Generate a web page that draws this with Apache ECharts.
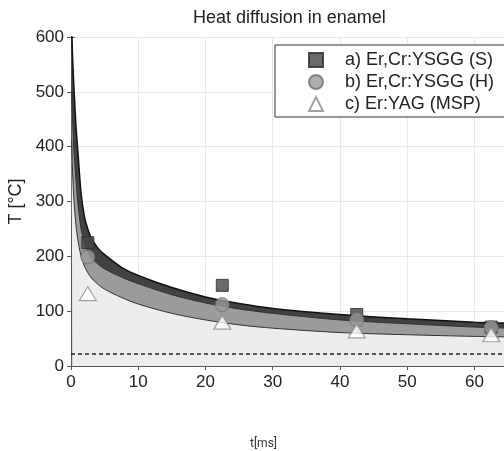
<!DOCTYPE html>
<html>
<head>
<meta charset="utf-8">
<script src="https://cdn.jsdelivr.net/npm/echarts@6/dist/echarts.min.js"></script>
<style>html,body{margin:0;padding:0;background:#fff;}#c{width:504px;height:451px;}</style>
</head>
<body>
<div id="c"></div>
<script>
// ---- data ----
const tCurve = [0.1, 0.2, 0.35, 0.5, 0.75, 1, 1.5, 2, 2.5, 3, 4, 5, 7.5, 10, 15, 20, 25, 30, 40, 50, 60, 65];
const upperCurve = [630, 575, 530, 492, 435, 395, 315, 272, 250, 234, 215, 203, 180, 165, 143, 126, 114, 105, 94, 86, 80, 78];
const middleCurve = [500, 460, 413, 380, 338, 300, 250, 226, 209, 198, 186, 177, 162, 150, 130, 115, 104, 96, 84, 77, 71, 69];
const lowerCurve = [413, 365, 321, 292, 255, 232, 200, 182, 170, 161, 149, 140, 125, 113, 96, 84, 75, 69, 61, 57, 54, 53];
const tMeas = [2.5, 22.5, 42.5, 62.5];
const seriesA = [225, 147, 94, 71];
const seriesB = [199, 112, 84, 70];
const seriesC = [132, 80, 64, 57];
const ambientT = 23;
const names = ['a) Er,Cr:YSGG (S)', 'b) Er,Cr:YSGG (H)', 'c) Er:YAG (MSP)'];
const xTicks = [0, 10, 20, 30, 40, 50, 60];

const FONT = '"Liberation Sans", Arial, sans-serif';
const pair = (xs, ys) => xs.map((x, i) => [x, ys[i]]);

const chart = echarts.init(document.getElementById('c'), null, {renderer: 'canvas'});
const axisLineStyle = {color: '#555', width: 1};
chart.setOption({
  animation: false,
  backgroundColor: '#fff',
  title: {
    text: 'Heat diffusion in enamel',
    left: 193, top: 9, padding: 0,
    textStyle: {fontFamily: FONT, fontSize: 18, fontWeight: 'normal', color: '#222'}
  },
  legend: {
    orient: 'vertical',
    left: 275, top: 45,
    padding: [6, 11, 4, 33],
    itemWidth: 14, itemHeight: 14, itemGap: 4,
    borderColor: '#333', borderWidth: 1, backgroundColor: '#fff',
    data: names,
    textStyle: {fontFamily: FONT, fontSize: 18, color: '#222', padding: [0, 0, 0, 17]}
  },
  grid: {left: 71, top: 37, right: -4, bottom: 85, outerBoundsMode: 'none', containLabel: false},
  xAxis: [{
    type: 'value', min: 0, max: 65, interval: 10,
    name: 't[ms]', nameLocation: 'middle', nameGap: 72,
    nameTextStyle: {fontFamily: 'Roboto, sans-serif', fontSize: 12, color: '#333', padding: [0, 52, 0, 0]},
    axisLine: {show: true, lineStyle: axisLineStyle},
    axisTick: {show: true, inside: true, length: 4, lineStyle: axisLineStyle},
    axisLabel: {fontFamily: FONT, fontSize: 17, color: '#222', margin: 8, showMaxLabel: false,
      formatter: v => xTicks.includes(v) ? String(v) : ''},
    splitLine: {show: true, lineStyle: {color: '#e8e8e8', width: 1}}
  }, {
    type: 'value', min: 0, max: 65, interval: 10, position: 'top',
    axisLine: {show: true, lineStyle: axisLineStyle},
    axisTick: {show: true, inside: true, length: 4, lineStyle: axisLineStyle},
    axisLabel: {show: false}, splitLine: {show: false}
  }],
  yAxis: [{
    type: 'value', min: 0, max: 600, interval: 100,
    name: 'T [°C]', nameLocation: 'middle', nameGap: 46,
    nameTextStyle: {fontFamily: FONT, fontSize: 18, color: '#222'},
    axisLine: {show: true, lineStyle: axisLineStyle},
    axisTick: {show: true, inside: true, length: 4, lineStyle: axisLineStyle},
    axisLabel: {fontFamily: FONT, fontSize: 17, color: '#222', margin: 7},
    splitLine: {show: true, lineStyle: {color: '#e8e8e8', width: 1}}
  }, {
    type: 'value', min: 0, max: 600, interval: 100, position: 'right',
    axisLine: {show: true, lineStyle: axisLineStyle},
    axisTick: {show: true, inside: true, length: 4, lineStyle: axisLineStyle},
    axisLabel: {show: false}, splitLine: {show: false}
  }],
  series: [
    {
      type: 'line', data: pair(tCurve, upperCurve), smooth: 0.3, showSymbol: false, clip: true,
      lineStyle: {color: '#111', width: 1.5},
      areaStyle: {color: '#424242', opacity: 1, origin: 'start'}, z: 2, silent: true
    },
    {
      type: 'line', data: pair(tCurve, middleCurve), smooth: 0.3, showSymbol: false, clip: true,
      lineStyle: {color: '#333', width: 1},
      areaStyle: {color: '#9b9b9b', opacity: 1, origin: 'start'}, z: 3, silent: true
    },
    {
      type: 'line', data: pair(tCurve, lowerCurve), smooth: 0.3, showSymbol: false, clip: true,
      lineStyle: {color: '#333', width: 1},
      areaStyle: {color: '#ededed', opacity: 1, origin: 'start'}, z: 4, silent: true,
      markLine: {
        silent: true, symbol: 'none', label: {show: false},
        lineStyle: {color: '#222', type: [4, 3], width: 1.5},
        data: [{yAxis: ambientT}]
      }
    },
    {
      name: names[0], type: 'scatter', data: pair(tMeas, seriesA), symbol: 'rect', symbolSize: 12,
      itemStyle: {color: '#454545', borderColor: '#2a2a2a', borderWidth: 1}, z: 6
    },
    {
      name: names[1], type: 'scatter', data: pair(tMeas, seriesB), symbol: 'circle', symbolSize: 14,
      itemStyle: {color: '#9a9a9a', borderColor: '#6e6e6e', borderWidth: 1}, z: 7
    },
    {
      name: names[2], type: 'scatter', data: pair(tMeas, seriesC), symbol: 'triangle', symbolSize: [17, 14],
      itemStyle: {color: '#ffffff', borderColor: '#8a8a8a', borderWidth: 1.2}, z: 8
    }
  ]
});
</script>
</body>
</html>
